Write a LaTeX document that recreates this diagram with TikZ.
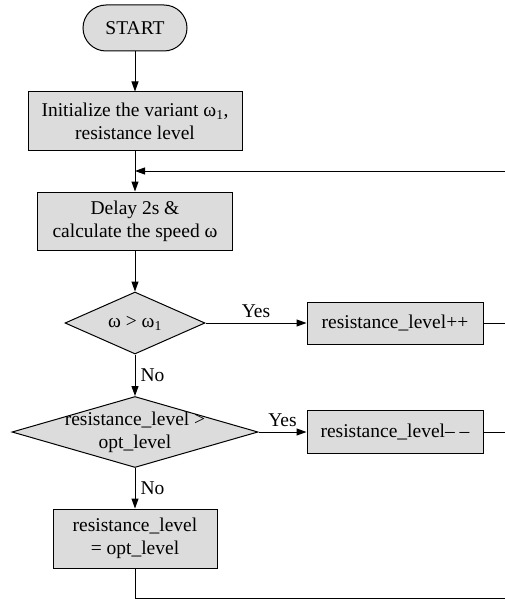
\documentclass[tikz,border=0pt]{standalone}
\usepackage{fontspec}
\setmainfont{Liberation Serif}
\usetikzlibrary{shapes.geometric,arrows.meta}
\definecolor{boxfill}{RGB}{220,220,220}
\begin{document}
\begin{tikzpicture}[x=1pt,y=-1pt,
  font=\fontsize{19.5}{23}\selectfont,
  base/.style={draw=black, line width=1pt, fill=boxfill, inner sep=0pt, align=center},
  procbox/.style={base, rectangle},
  termbox/.style={base, rectangle, rounded corners=23pt},
  decbox/.style={base, diamond},
  txt/.style={inner sep=0pt, align=center},
  flow/.style={line width=1pt, -{Triangle[length=10pt,width=7pt]}},
  plain/.style={line width=1pt},
  lbl/.style={inner sep=2pt}]
\useasboundingbox (0,0) rectangle (505,599);

\node[termbox, minimum width=104pt, minimum height=46pt] (start) at (135,28) {START};
\node[procbox, minimum width=214pt, minimum height=58pt] (init) at (135,121) {Initialize the variant ω\textsubscript{1},\\resistance level};
\node[procbox, minimum width=195pt, minimum height=58pt] (delay) at (135,221) {Delay 2s \&\\calculate the speed ω};
\node[decbox, minimum width=140pt, minimum height=62pt] (d1) at (135,323) {};
\node[txt] (d1t) at (d1) {ω > ω\textsubscript{1}};
\node[decbox, minimum width=246pt, minimum height=71pt] (d2) at (135,432) {};
\node[txt] (d2t) at (d2) {resistance\_level >\\opt\_level};
\node[procbox, minimum width=176pt, minimum height=42pt] (inc) at (395,323) {resistance\_level++};
\node[procbox, minimum width=176pt, minimum height=43pt] (dec) at (395,432) {resistance\_level– –};
\node[procbox, minimum width=164pt, minimum height=59pt] (opt) at (135,538.5) {resistance\_level\\= opt\_level};

\coordinate (fbin) at (505,171);
\coordinate (fbjoin) at (135,171);
\coordinate (incout) at (505,323);
\coordinate (decout) at (505,432);
\coordinate (bottom) at (135,598);
\coordinate (bottomout) at (505,598);

\draw[flow] (start) -- (init);
\draw[flow] (init) -- (delay);
\draw[flow] (fbin) -- (fbjoin);
\draw[flow] (delay) -- (d1);
\draw[flow] (d1.east) -- node[lbl, above=3pt] {Yes} (inc.west);
\draw[flow] (d2.east) -- node[lbl, above=3pt] {Yes} (dec.west);
\draw[flow] (d1.south) -- node[lbl, right=3pt] {No} (d2.north);
\draw[flow] (d2.south) -- node[lbl, right=3pt] {No} (opt.north);
\draw[plain] (inc.east) -- (incout);
\draw[plain] (dec.east) -- (decout);
\draw[plain] (opt.south) -- (bottom) -- (bottomout);
\end{tikzpicture}
\end{document}
